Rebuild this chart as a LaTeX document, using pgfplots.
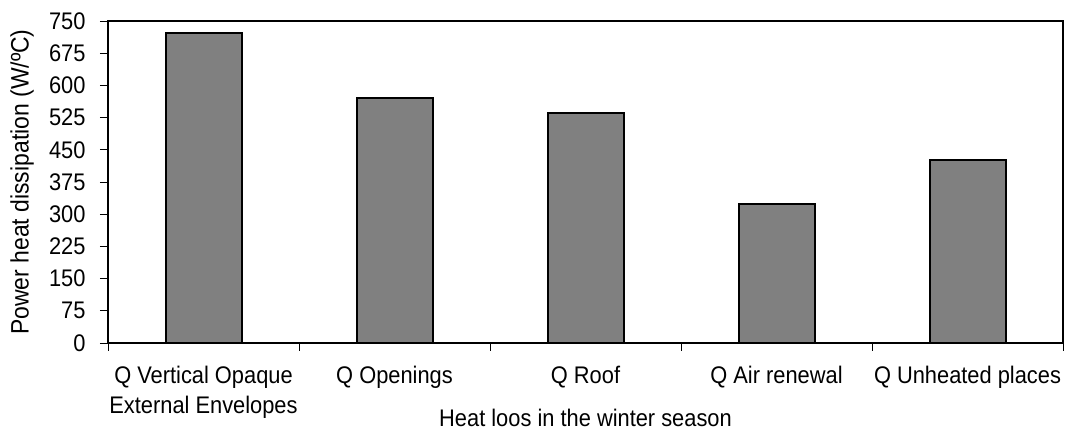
\documentclass[border=0pt]{standalone}
\usepackage{pgfplots}
\pgfplotsset{compat=1.18}
\usetikzlibrary{calc}
\usepackage{fontspec}
\setmainfont{Liberation Sans}[FakeStretch=0.91]
\definecolor{barGray}{RGB}{128,128,128}

\begin{document}
\begin{tikzpicture}[font=\fontsize{24}{30}\selectfont]
\begin{axis}[
  scale only axis,
  width=955pt, height=322pt,
  ybar, bar width=76pt,
  xmin=-0.5, xmax=4.5,
  ymin=0, ymax=750,
  ytick={0,75,...,750},
  xtick={0,...,4},
  xticklabels={{Q Vertical Opaque\\External Envelopes},{Q Openings},{Q Roof},{Q Air renewal},{Q Unheated places}},
  minor xtick={-0.5,0.5,...,4.5},
  major x tick style={draw=none},
  tick align=outside,
  xtick pos=bottom, ytick pos=left,
  major tick length=8pt, minor tick length=8pt,
  tick style={black, line width=0.8pt},
  axis line style={line width=1.3pt},
  xticklabel style={align=center, yshift=-12pt},
  yticklabel style={xshift=-11pt},
  /pgf/number format/assume math mode=true,
  ylabel={Power heat dissipation (W/ºC)},
  xlabel={Heat loos in the winter season},
  ylabel style={at={(axis description cs:0,0.5)}, anchor=center, yshift=86pt,
    font=\fontsize{25.2}{30}\selectfont},
  xlabel style={at={(axis description cs:0.5,0)}, anchor=center, yshift=-75pt},
]
\addplot[fill=barGray, draw=black, line width=2pt] coordinates
  {(0,721) (1,571) (2,535) (3,324) (4,426)};
\end{axis}
\path[use as bounding box] ($(current axis.south west)+(-108pt,-95pt)$) rectangle ($(current axis.north east)+(5pt,21pt)$);
\end{tikzpicture}
\end{document}
